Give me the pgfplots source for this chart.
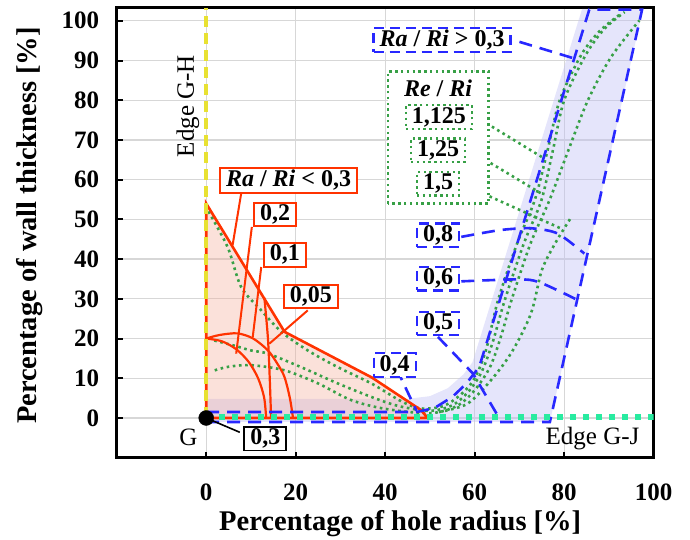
\documentclass[border=0pt]{standalone}
\usepackage{fontspec}
\setmainfont{Liberation Serif}
\usepackage{pgfplots}
\pgfplotsset{compat=1.18}

\definecolor{redline}{RGB}{255,51,0}
\definecolor{redfill}{RGB}{244,170,150}
\definecolor{blueline}{RGB}{40,40,255}
\definecolor{bluefill}{RGB}{190,190,245}
\definecolor{greendot}{RGB}{55,160,70}
\definecolor{edgegj}{RGB}{40,235,160}
\definecolor{edgegh}{RGB}{232,225,50}
\definecolor{gridgray}{RGB}{215,215,215}

\newcommand{\lbl}{\bfseries\fontsize{24}{24}\selectfont}
\newcommand{\reg}{\fontsize{25}{25}\selectfont}

\tikzset{
  bdash/.style={blueline, line width=2.6pt, dash pattern=on 13pt off 8pt},
  gdot/.style={greendot, line width=2.6pt, dash pattern=on 2.6pt off 3.6pt},
  rln/.style={redline, line width=2.2pt},
  rbox/.style={draw=redline, line width=2pt, fill=white, inner xsep=6pt, inner ysep=2pt, font=\lbl},
  bbox/.style={draw=blueline, line width=2.2pt, dash pattern=on 10pt off 6pt, fill=white, inner xsep=6pt, inner ysep=2pt, font=\lbl},
  gbox/.style={draw=greendot, line width=2.4pt, dash pattern=on 2.4pt off 3.4pt, fill=white, inner xsep=6pt, inner ysep=2pt, font=\lbl},
}

\begin{document}
\begin{tikzpicture}
\begin{axis}[name=ax, scale only axis, width=537pt, height=450pt,
  xmin=-20, xmax=100, ymin=-10, ymax=103.3,
  xtick={0,20,...,100}, ytick={0,10,...,100},
  grid=major, major grid style={gridgray, line width=1.3pt},
  axis line style={line width=3.5pt},
  tick style={black, line width=2pt}, major tick length=6pt, tick align=inside,
  xtick pos=bottom, ytick pos=left,
  ticklabel style={font=\bfseries\fontsize{25}{25}\selectfont},
  /pgf/number format/assume math mode=true,
  xticklabel style={anchor=center, yshift=-35pt},
  yticklabel style={anchor=east, xshift=-14pt},
  label style={font=\bfseries\fontsize{28.5}{28.5}\selectfont},
  xlabel={Percentage of hole radius [\%]},
  ylabel={Percentage of wall thickness [\%]},
  xlabel style={at={(axis description cs:0.528,-0.146)}, anchor=center},
  ylabel style={at={(axis description cs:-0.163,0.516)}, anchor=center},
]

% shaded regions
\addplot[draw=none, fill=bluefill, fill opacity=0.4] coordinates {
  (0,-1) (0,4.8) (45,4.8) (50,5.5) (54,7.5) (57.5,11) (59.5,14) (84,103) (97.6,103) (76.8,-1)} -- cycle;
\addplot[draw=none, fill=redfill, fill opacity=0.35] coordinates {
  (0,0) (0,54) (17.5,21.7) (37,10.2) (48,2) (49.5,0)} -- cycle;

% Re/Ri curves
\addplot[gdot, smooth, tension=0.5] coordinates {
  (0.5,52) (4.8,43) (7.8,33) (12.3,27.1) (16.8,21.7) (22.7,17) (29.4,12.8) (36.9,8.7) (43.6,4.2)
  (48,2.4) (53,3) (57,6) (60,10) (62.5,17) (65.2,29.6) (69.5,44) (73.4,54.8) (76.2,67) (79,80)
  (83.8,91.4) (88,97.5) (92.7,101.8)};
\addplot[gdot, smooth, tension=0.5] coordinates {
  (1.8,19.5) (6,18.3) (10,17) (13.8,16.2) (21.2,12.8) (29.4,8.7) (36.9,5.3) (43,3) (50,1.8)
  (55,3.2) (58.5,6.5) (61.5,11.5) (64,19) (66.7,29.6) (71,44) (74.9,54.8) (77.4,67) (80,80)
  (84.8,91.4) (89,98) (93.5,102.2)};
\addplot[gdot, smooth, tension=0.5] coordinates {
  (1.9,12) (5,12.9) (10,13.3) (17.5,12) (25,8.7) (32.4,4.5) (40,2.3) (50,1.2)
  (56,3) (60,7) (63.5,13) (66,21) (68.2,29.6) (72.5,44) (76.7,54.8) (80.8,67) (85.3,80)
  (90.5,90.9) (96.8,100.1)};
\addplot[gdot, smooth, tension=0.5] coordinates {
  (52,1.5) (58.4,3.6) (64,10) (68.5,17) (72.6,26.4) (75,37.2) (78,44) (81.6,50.6)};

% Ra/Ri < 0,3 region and its curves
\addplot[redline, line width=2.6pt] coordinates {
  (0,0) (0,54) (17.5,21.7) (37,10.2) (48,2) (49.5,0)} -- cycle;
\addplot[rln, smooth] coordinates {
  (0,20) (3.47,19.32) (6.7,17.32) (9.48,14.14) (11.6,10) (12.94,5.18) (13.4,0)};
\addplot[rln, smooth] coordinates {
  (0,20) (3,20.9) (7,21.3) (10.5,20) (13.8,17) (16,13.5) (17.5,10.3) (18.7,5) (19.4,0)};
\addplot[rln, smooth] coordinates {(13,30.3) (13.8,20) (14.2,10) (14.5,0)};

% Ra/Ri > 0,3 region and its curves
\addplot[bdash] coordinates {
  (0,1.5) (47,1.5) (51,2.5) (55,5.3) (58,8.5) (61,12.8) (85.6,102.8) (97.4,102.8) (76.8,-1) (0,-1)};
\addplot[bdash, smooth] coordinates {(57,45.6) (65,47.2) (69.7,47.7) (73.3,47.7) (78.6,46.4) (84.5,41.4)};
\addplot[bdash, smooth] coordinates {(57,34.4) (69.7,34.9) (74.1,34.3) (80.1,31.3) (83.1,29.6)};
\addplot[bdash] coordinates {(51.8,20.4) (59.6,11.2) (65.2,0.5)};
\addplot[bdash] coordinates {(42.5,12.5) (47,1.8)};
\addplot[bdash] coordinates {(70,94.7) (82.3,90.5)};

% edges
\addplot[edgegh, line width=4.5pt, dash pattern=on 11pt off 6pt] coordinates {(0,0) (0,103.3)};
\addplot[edgegj, line width=5.5pt, dash pattern=on 5.5pt off 7.5pt] coordinates {(0,0.2) (100,0.2)};

% leaders
\addplot[rln, line width=2pt] coordinates {(7.8,56.4) (5.9,43.5)};
\addplot[rln, line width=2pt] coordinates {(10.2,48.1) (6.7,16.2)};
\addplot[rln, line width=2pt] coordinates {(12.3,38) (10.4,20.4)};
\addplot[rln, line width=2pt] coordinates {(22.7,27.1) (14.1,18.7)};
\addplot[gdot] coordinates {(60.3,75.8) (75.6,65.3)};
\addplot[gdot] coordinates {(58.8,67.4) (74.9,56.5)};
\addplot[gdot] coordinates {(57,59) (79.3,47.7)};
\addplot[black, line width=1.6pt] coordinates {(0,0) (7.5,-3.6)};
\addplot[only marks, mark=*, mark size=7.5pt, black] coordinates {(0,0)};

% labels
\node[rbox] at (axis cs:18.4,59.8) {\textit{Ra} / \textit{Ri} < 0,3};
\node[rbox] at (axis cs:15.4,51.2) {0,2};
\node[rbox] at (axis cs:17.6,41.1) {0,1};
\node[rbox] at (axis cs:23.4,30.6) {0,05};
\node[draw=black, line width=1.6pt, fill=white, inner xsep=6pt, inner ysep=2pt, font=\lbl] at (axis cs:13.2,-5.2) {0,3};
\node[bbox] at (axis cs:52.7,95.2) {\textit{Ra} / \textit{Ri} > 0,3};
\draw[greendot, line width=2.4pt, dash pattern=on 2.4pt off 3.4pt, fill=white] (axis cs:40.6,54) rectangle (axis cs:63.1,87.2);
\node[font=\lbl] at (axis cs:51.8,83) {\textit{Re} / \textit{Ri}};
\node[gbox] at (axis cs:52,75.8) {1,125};
\node[gbox] at (axis cs:51.8,67.4) {1,25};
\node[gbox] at (axis cs:51.8,59) {1,5};
\node[bbox] at (axis cs:51.8,46) {0,8};
\node[bbox] at (axis cs:51.8,35.1) {0,6};
\node[bbox] at (axis cs:51.8,23.8) {0,5};
\node[bbox] at (axis cs:42.1,13.3) {0,4};
\node[rotate=90, font=\reg] at (axis cs:-4.1,78.5) {Edge G-H};
\node[anchor=east, font=\reg] at (axis cs:97.6,-5.1) {Edge G-J};
\node[font=\reg] at (axis cs:-4,-4.9) {G};
\end{axis}
\path[use as bounding box] ([xshift=-116.7pt, yshift=-78.3pt]ax.south west) rectangle ([xshift=573.3pt, yshift=457.7pt]ax.south west);
\end{tikzpicture}
\end{document}
